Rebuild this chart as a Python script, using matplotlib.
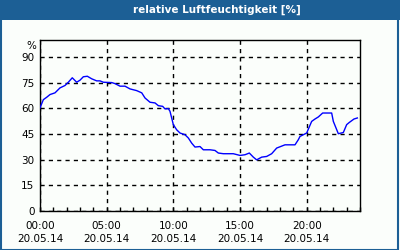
import matplotlib
matplotlib.use("Agg")
import matplotlib.pyplot as plt
from matplotlib.patches import Rectangle
from matplotlib.ticker import MultipleLocator, FixedLocator

hours = [0.0, 0.25, 0.5, 0.75, 1.125, 1.5, 1.875, 2.125, 2.42, 2.75, 3.0, 3.25, 3.55, 3.88,
         4.25, 4.5, 4.75, 5.38, 5.625, 6.0, 6.375, 6.75, 7.25, 7.63, 7.875, 8.25, 8.625,
         8.875, 9.2, 9.375, 9.625, 9.75, 10.0, 10.25, 10.5, 10.875, 11.125, 11.375, 11.625,
         12.0, 12.25, 12.75, 13.125, 13.375, 13.75, 14.5, 15.0, 15.375, 15.7, 16.0, 16.25,
         16.625, 17.0, 17.375, 17.75, 18.375, 19.125, 19.375, 19.5, 20.0, 20.375, 20.625,
         20.875, 21.2, 21.875, 22.0, 22.375, 22.75, 23.0, 23.2, 23.55, 23.8]
humidity = [60.3, 65.1, 66.5, 68.1, 69.1, 72.0, 73.4, 75.3, 77.9, 75.3, 76.5, 78.5, 78.8, 77.3,
            76.1, 76.1, 75.3, 75.1, 74.5, 73.0, 73.0, 71.4, 70.4, 69.1, 66.1, 63.6, 63.2,
            61.6, 61.2, 59.7, 59.9, 58.3, 50.5, 47.5, 45.6, 44.6, 42.7, 39.7, 37.4,
            37.7, 35.8, 35.8, 35.4, 33.9, 33.5, 33.5, 32.5, 32.9, 33.9, 31.5, 29.9,
            31.5, 31.9, 33.5, 36.8, 38.7, 38.7, 41.7, 43.6, 45.6, 52.4, 53.8,
            55.0, 57.3, 57.3, 52.4, 45.2, 45.9, 50.5, 51.8, 53.8, 54.4]

xtick_pos = [0, 5, 10, 15, 20]
xtick_labels = ["00:00\n20.05.14", "05:00\n20.05.14", "10:00\n20.05.14",
                "15:00\n20.05.14", "20:00\n20.05.14"]
ytick_pos = [0, 15, 30, 45, 60, 75, 90]
title = "relative Luftfeuchtigkeit [%]"

bg = "#fbfefb"
bar = "#1c5f95"

fig = plt.figure(figsize=(4, 2.5), dpi=100, facecolor=bg)
# title bar
fig.patches.append(Rectangle((0, 1 - 20 / 250), 1, 20 / 250, transform=fig.transFigure,
                             facecolor=bar, edgecolor="none", zorder=0))
# border
fig.patches.append(Rectangle((0.5 / 400, 0.5 / 250), 1 - 2.5 / 400, 1 - 1.5 / 250,
                             transform=fig.transFigure, facecolor="none",
                             edgecolor=bar, linewidth=1.5, zorder=1))
fig.text(217 / 400, 1 - 10 / 250, title, color="white", fontsize=7.5, fontweight="bold",
         ha="center", va="center")

ax = fig.add_axes([40 / 400, 1 - 211 / 250, 320 / 400, 171 / 250])
ax.set_facecolor(bg)
ax.plot(hours, humidity, color="#0000ff", linewidth=1.0, zorder=3)
ax.set_xlim(0, 24)
ax.set_ylim(0, 100)
ax.set_xticks(xtick_pos)
ax.set_xticklabels(xtick_labels, linespacing=1.45)
ax.xaxis.set_minor_locator(MultipleLocator(1))
ax.set_yticks(ytick_pos)
ax.set_yticklabels([str(v) for v in ytick_pos])
ax.tick_params(axis="x", which="both", direction="in", length=3, width=1, pad=7,
               labelsize=7.5, top=False)
ax.tick_params(axis="y", which="both", length=0, pad=4, labelsize=7.5)
ax.grid(True, which="major", color="black", linestyle=(0, (3, 3)), linewidth=1)
for s in ax.spines.values():
    s.set_color("black")
    s.set_linewidth(1)
ax.text(-0.012, 1 - 6 / 171, "%", transform=ax.transAxes, ha="right", va="center",
        fontsize=7.5)

fig.savefig("out.png", dpi=100, facecolor=bg)
